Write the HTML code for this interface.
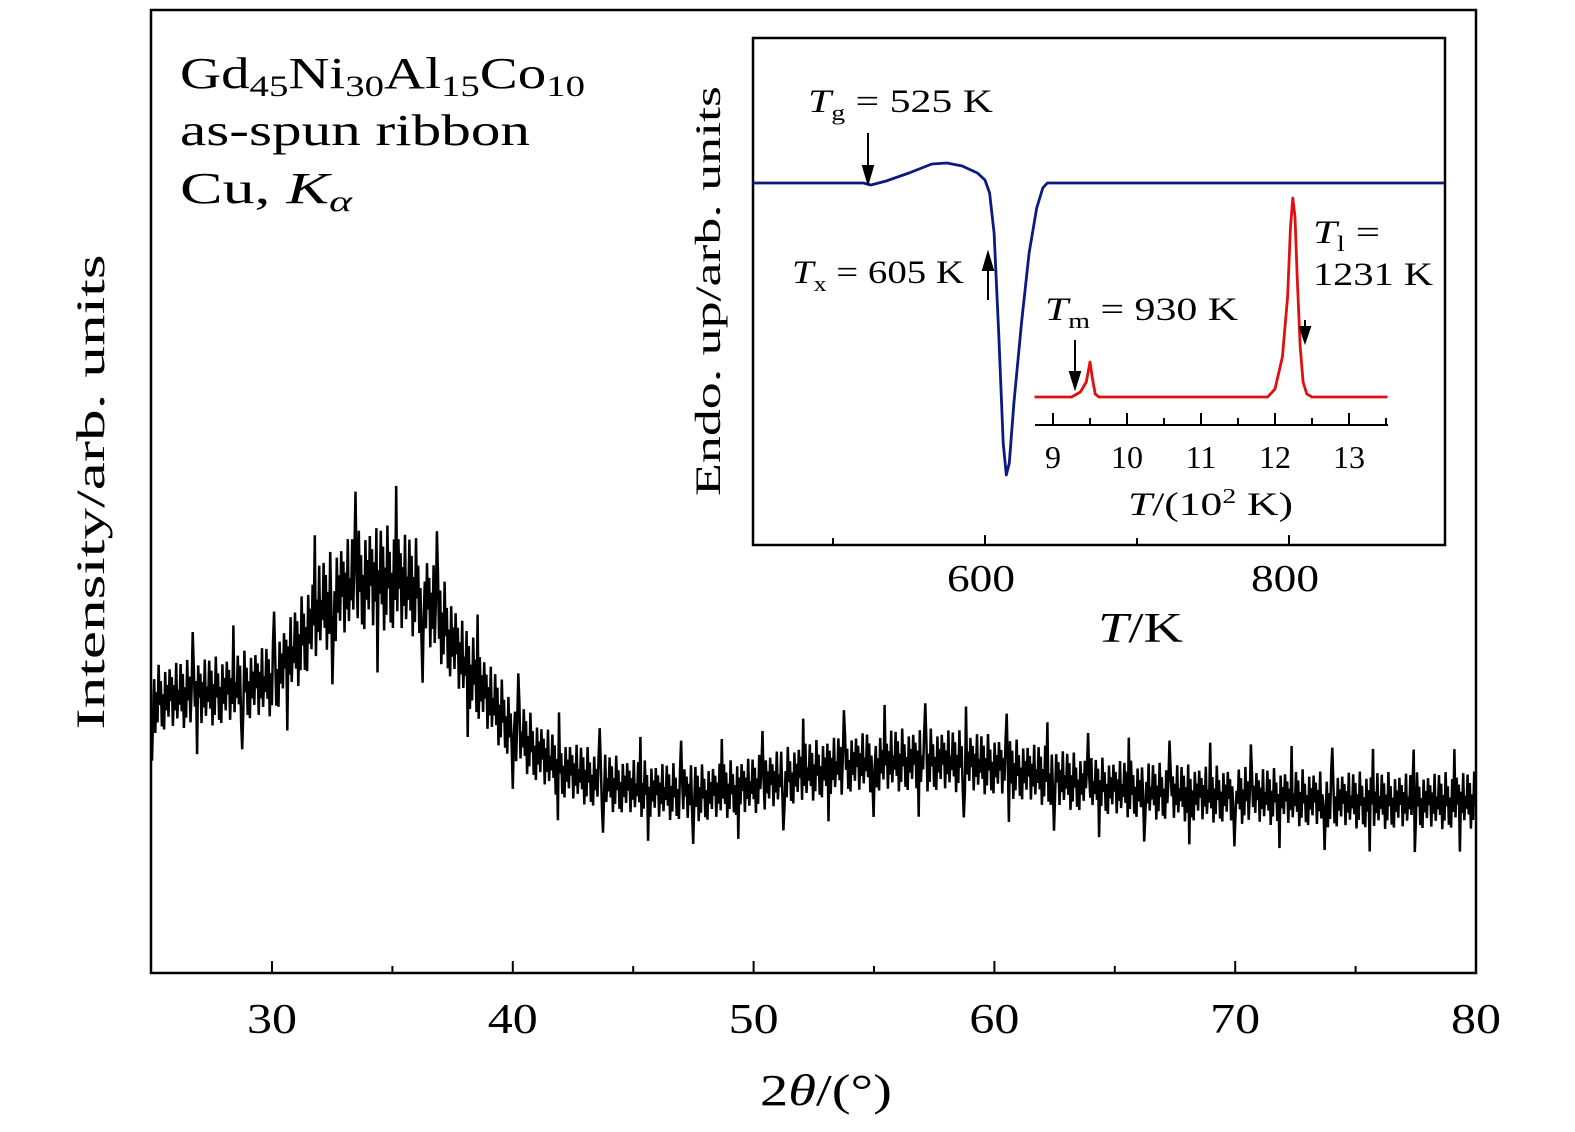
<!DOCTYPE html>
<html><head><meta charset="utf-8"><style>
html,body{margin:0;padding:0;background:#fff}
svg{display:block;font-family:"Liberation Serif",serif}
</style></head><body>
<svg id="chart" width="1575" height="1132" viewBox="0 0 1575 1132" xmlns="http://www.w3.org/2000/svg">
<g id="main"></g>
<g id="inset"></g>
</svg>
<script>
// ===== Main XRD data =====
const xrdAngles = [25,26,28,30,31,32,33,34,35,36,37,38,39,40,41,42,44,46,48,50,52,54,56,58,60,62,64,66,68,70,72,75,78,80];
const xrdMean   = [273,278,283,293,325,365,385,395,395,385,355,310,275,245,222,205,190,182,180,188,200,210,213,213,208,198,188,183,180,178,176,173,172,173];
const xrdSpread = [45,45,46,48,55,62,66,70,70,66,60,52,48,45,42,40,38,38,38,38,40,40,42,42,40,40,38,38,38,38,38,38,38,38];
const xTicks = [30,40,50,60,70,80];
const xMinor = [35,45,55,65,75];
// ===== Inset DSC data =====
const dscT = [447,520,525,535,550,565,575,585,595,600,603,606,609,612,614,616,619,624,629,634,638,641,700,902];
const dscSignal = [0,0,-2,2,10,19,20,17,10,3,-10,-50,-150,-260,-292,-280,-220,-140,-70,-25,-5,0,0,0];
const hiT = [875,925,930,937,945,950,953,957,962,1190,1200,1210,1217,1221,1224,1227,1230,1234,1238,1243,1250,1352];
const hiSignal = [0,0,2,5,15,35,20,3,0,0,8,40,100,170,199,180,120,50,15,3,0,0];
const insetTicks = [600,800];
const insetMinor = [500,700];
const hiTicks = [9,10,11,12,13];

const NS="http://www.w3.org/2000/svg";
function mk(tag,attrs,parent,text){const e=document.createElementNS(NS,tag);for(const k in attrs)e.setAttribute(k,attrs[k]);if(text!==undefined)e.textContent=text;parent.appendChild(e);return e;}
const main=document.getElementById('main');

const X0=151,X1=1476,Y0=10,Y1=973;
const xs=v=>151.6+(v-25)*24.08;
const ys=v=>973-v;
function interp(xa,ya,x){for(let i=1;i<xa.length;i++){if(x<=xa[i]){const t=(x-xa[i-1])/(xa[i]-xa[i-1]);return ya[i-1]+t*(ya[i]-ya[i-1]);}}return ya[ya.length-1];}

let d='';
const pat=[0.9,-0.5,0.6,-1,0.2,-0.7,1,-0.2,0.5,-0.85,0.1,-0.95,0.75,-0.4,0.35,-0.6,0.8,-0.15,0.55,-0.9,0.3,-0.45,0.95,-0.7,0.15,-0.3];
let k=0;
for(let px=X0+1;px<=X1;px+=1.1){const a=25+(px-151.6)/24.08;const m=interp(xrdAngles,xrdMean,a);const s=interp(xrdAngles,xrdSpread,a);
 let f=pat[k%pat.length]*0.75; if(k%37==0)f=1.35; if(k%41==0)f=-1.35;
 const y=ys(m+s*f);d+=(d?'L':'M')+px.toFixed(1)+' '+y.toFixed(1);k++;}
const xl=mk('path',{d:d,fill:'none',stroke:'#000','stroke-width':2.5},main);



const fr=mk('rect',{x:X0,y:Y0,width:X1-X0,height:Y1-Y0,fill:'none',stroke:'#000','stroke-width':2.5},main);


xTicks.forEach(t=>{const x=xs(t);
 const tk=mk('line',{x1:x,y1:Y1,x2:x,y2:Y1-12,stroke:'#000','stroke-width':2},main);
 
 
 const lb=mk('text',{x:x,y:1033,'font-size':42,'text-anchor':'middle',textLength:String(t).length*25,lengthAdjust:'spacingAndGlyphs'},main,String(t));
 
 
});
xMinor.forEach(t=>{const x=xs(t);
 const tk=mk('line',{x1:x,y1:Y1,x2:x,y2:Y1-7,stroke:'#000','stroke-width':2},main);
 
 
});
</script>
<script>
(function(){
const main=document.getElementById('main');
main.insertAdjacentHTML('beforeend',
'<text x="760" y="1105" font-size="44" textLength="132" lengthAdjust="spacingAndGlyphs">2<tspan font-style="italic">θ</tspan>/(°)</text>'+
'<text transform="translate(104,492) rotate(-90)" font-size="40" text-anchor="middle" textLength="475" lengthAdjust="spacingAndGlyphs">Intensity/arb. units</text>'+
'<text x="180" y="88" font-size="44" textLength="405" lengthAdjust="spacingAndGlyphs">Gd<tspan font-size="30" dy="8">45</tspan><tspan dy="-8">Ni</tspan><tspan font-size="30" dy="8">30</tspan><tspan dy="-8">Al</tspan><tspan font-size="30" dy="8">15</tspan><tspan dy="-8">Co</tspan><tspan font-size="30" dy="8">10</tspan></text>'+
'<text x="180" y="145" font-size="44" textLength="350" lengthAdjust="spacingAndGlyphs">as-spun ribbon</text>'+
'<text x="180" y="203" font-size="44" textLength="172" lengthAdjust="spacingAndGlyphs">Cu, <tspan font-style="italic">K</tspan><tspan font-style="italic" font-size="30" dy="8">α</tspan></text>');
})();
</script>
<script>
(function(){
const NS="http://www.w3.org/2000/svg";
function mk(tag,attrs,parent,text){const e=document.createElementNS(NS,tag);for(const k in attrs)e.setAttribute(k,attrs[k]);if(text!==undefined)e.textContent=text;parent.appendChild(e);return e;}
const g=document.getElementById('inset');
const IX0=753,IX1=1445,IY0=38,IY1=545;
const ix=t=>985+(t-600)*1.52;
const iy=s=>183-s;
const hx=t=>1053+(t-900)*0.74;
const hy=s=>397-s;
const fr=mk('rect',{x:IX0,y:IY0,width:IX1-IX0,height:IY1-IY0,fill:'#fff',stroke:'#000','stroke-width':2.5},g);


let d=dscT.map((t,i)=>(i?'L':'M')+ix(t).toFixed(1)+' '+iy(dscSignal[i]).toFixed(1)).join('');
const bl=mk('path',{d:d,fill:'none',stroke:'#0a1a80','stroke-width':2.8,'stroke-linejoin':'round'},g);


d=hiT.map((t,i)=>(i?'L':'M')+hx(t).toFixed(1)+' '+hy(hiSignal[i]).toFixed(1)).join('');
const rl=mk('path',{d:d,fill:'none',stroke:'#e01010','stroke-width':2.8,'stroke-linejoin':'round'},g);


insetTicks.forEach(t=>{const x=ix(t);
 const tk=mk('line',{x1:x,y1:IY1,x2:x,y2:IY1-10,stroke:'#000','stroke-width':2},g);
 
 
 const lb=mk('text',{x:x-4,y:591,'font-size':38,'text-anchor':'middle',textLength:68,lengthAdjust:'spacingAndGlyphs'},g,String(t));
 
 
});
insetMinor.forEach(t=>{const x=ix(t);
 const tk=mk('line',{x1:x,y1:IY1,x2:x,y2:IY1-7,stroke:'#000','stroke-width':2},g);
 
 
});
const ax=mk('line',{x1:1035,y1:425,x2:1388,y2:425,stroke:'#000','stroke-width':2},g);


hiTicks.forEach(t=>{const x=hx(t*100);
 const tk=mk('line',{x1:x,y1:425,x2:x,y2:413,stroke:'#000','stroke-width':2},g);
 
 
 const mt=mk('line',{x1:x+37,y1:425,x2:x+37,y2:418,stroke:'#000','stroke-width':2},g);
 
 
 const lb=mk('text',{x:x,y:468,'font-size':32,'text-anchor':'middle'},g,String(t));
 
 
});
g.insertAdjacentHTML('beforeend',
'<text x="1128" y="515" font-size="33" textLength="165" lengthAdjust="spacingAndGlyphs"><tspan font-style="italic">T</tspan>/(10<tspan font-size="21" dy="-12">2</tspan><tspan dy="12"> K)</tspan></text>'+
'<text x="1098" y="642" font-size="42" textLength="85" lengthAdjust="spacingAndGlyphs"><tspan font-style="italic">T</tspan>/K</text>'+
'<text transform="translate(720,291) rotate(-90)" font-size="36" text-anchor="middle" textLength="410" lengthAdjust="spacingAndGlyphs">Endo. up/arb. units</text>'+
'<text x="808" y="112" font-size="33" textLength="185" lengthAdjust="spacingAndGlyphs"><tspan font-style="italic">T</tspan><tspan font-size="22" dy="8">g</tspan><tspan dy="-8"> = 525 K</tspan></text>'+
'<text x="792" y="283" font-size="33" textLength="172" lengthAdjust="spacingAndGlyphs"><tspan font-style="italic">T</tspan><tspan font-size="22" dy="8">x</tspan><tspan dy="-8"> = 605 K</tspan></text>'+
'<text x="1045" y="320" font-size="33" textLength="193" lengthAdjust="spacingAndGlyphs"><tspan font-style="italic">T</tspan><tspan font-size="22" dy="8">m</tspan><tspan dy="-8"> = 930 K</tspan></text>'+
'<text x="1313" y="243" font-size="33" textLength="67" lengthAdjust="spacingAndGlyphs"><tspan font-style="italic">T</tspan><tspan font-size="22" dy="8">l</tspan><tspan dy="-8"> =</tspan></text>'+
'<text x="1313" y="285" font-size="33" textLength="120" lengthAdjust="spacingAndGlyphs">1231 K</text>'+
'<g stroke="#000" stroke-width="2"><line x1="868" y1="133" x2="868" y2="170"/><path d="M863 166 L868 183 L873 166 Z" fill="#000"/></g>'+
'<g stroke="#000" stroke-width="2"><line x1="988" y1="300" x2="988" y2="266"/><path d="M983 270 L988 253 L993 270 Z" fill="#000"/></g>'+
'<g stroke="#000" stroke-width="2"><line x1="1075" y1="340" x2="1075" y2="376"/><path d="M1070 372 L1075 388 L1080 372 Z" fill="#000"/></g>'+
'<g stroke="#000" stroke-width="2"><line x1="1305" y1="320" x2="1305" y2="330"/><path d="M1300 327 L1305 342 L1310 327 Z" fill="#000"/></g>');
})();
</script>
</body></html>
